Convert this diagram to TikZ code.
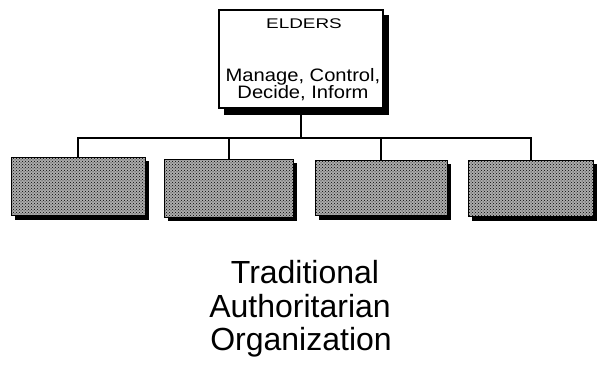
\documentclass[tikz,border=0pt]{standalone}
\usepackage{fontspec}
\setmainfont{Liberation Sans}
\usetikzlibrary{patterns}
\begin{document}
\begin{tikzpicture}[x=1pt,y=-1pt,
  subbox/.style={draw=black,line width=1pt,inner sep=0pt,
     preaction={fill=gray!65},pattern=crosshatch dots,pattern color=black},
  conn/.style={line width=1.3pt,black},
  shade/.style={fill=black},
  smalltxt/.style={anchor=base,transform shape,font=\fontsize{14}{15}\selectfont},
  midtxt/.style={anchor=base,transform shape,font=\fontsize{18}{19}\selectfont},
  bigtxt/.style={anchor=base,font=\fontsize{32}{34}\selectfont}]
\useasboundingbox (0,0) rectangle (598,367);
% top box
\fill[shade] (224,15) rectangle (389,115);
\node[draw=black,line width=1.2pt,fill=white,minimum width=164pt,minimum height=98pt,inner sep=0pt] (elders) at (301,59) {};
\node[smalltxt,xscale=1.35] (t1) at (304,28) {ELDERS};
\node[midtxt,xscale=1.12] (t2) at (303,81) {Manage, Control,};
\node[midtxt,xscale=1.12] (t3) at (303,98) {Decide, Inform};
% sub boxes shadows
\fill[shade] (15,161) rectangle (149,220);
\fill[shade] (168,163) rectangle (297,221);
\fill[shade] (319,164) rectangle (451,220);
\fill[shade] (472,164) rectangle (597,221);
\node[subbox,minimum width=134pt,minimum height=58pt] (b1) at (78,186) {};
\node[subbox,minimum width=129pt,minimum height=58pt] (b2) at (229,188) {};
\node[subbox,minimum width=132pt,minimum height=55pt] (b3) at (381,188) {};
\node[subbox,minimum width=125pt,minimum height=56pt] (b4) at (531,188) {};
% connectors
\coordinate (bus) at (301,138);
\draw[conn] (elders.south) -- (elders.south |- bus);
\draw[conn] (b1.north) |- (bus -| b4.north) -- (b4.north);
\draw[conn] (b2.north) -- (b2.north |- bus);
\draw[conn] (b3.north) -- (b3.north |- bus);
% title
\node[bigtxt] (l1) at (305,283) {Traditional};
\node[bigtxt] (l2) at (300,317) {Authoritarian};
\node[bigtxt] (l3) at (301,350) {Organization};
\end{tikzpicture}
\end{document}
